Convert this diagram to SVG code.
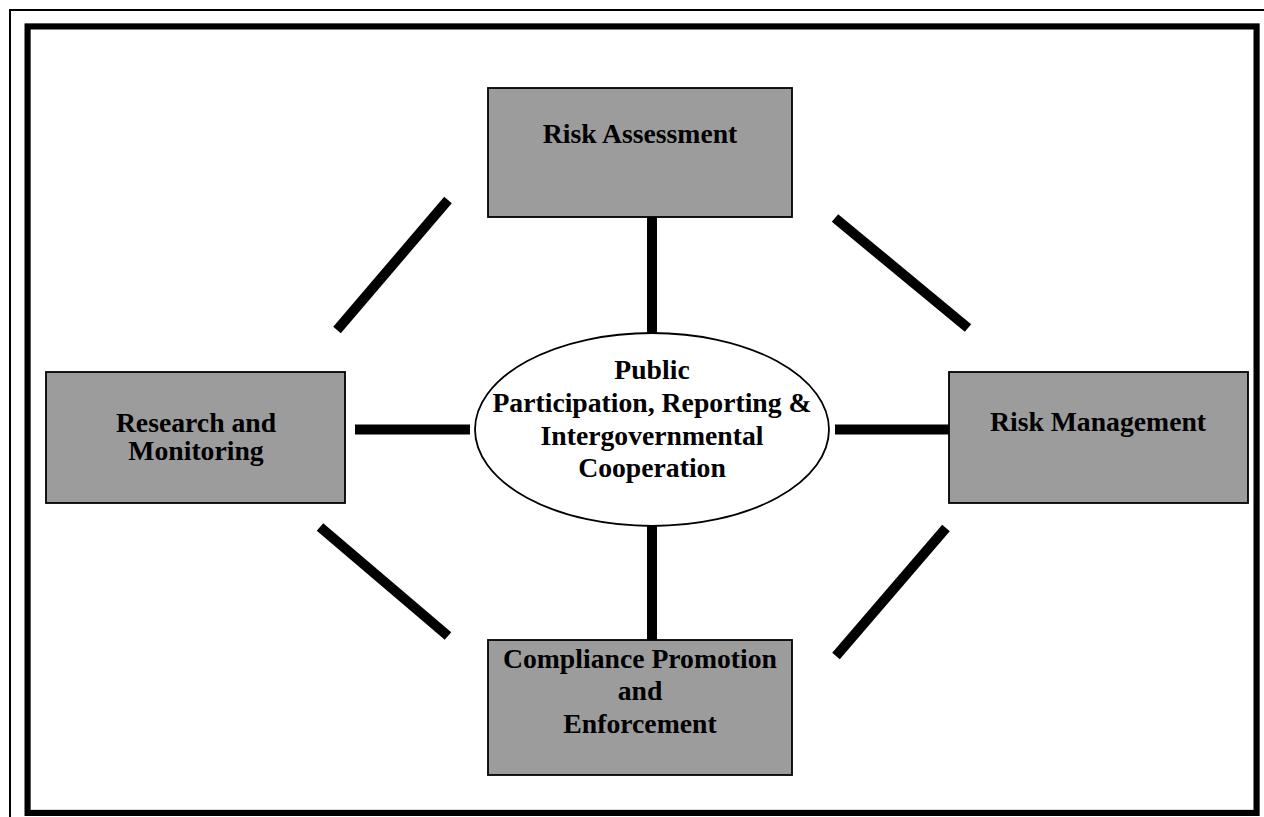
<svg xmlns="http://www.w3.org/2000/svg" width="1264" height="817" viewBox="0 0 1264 817">
<style>
.box{fill:#9c9c9c;stroke:#000;stroke-width:1.8}
.lbl{font-family:"Liberation Serif","Times New Roman",serif;font-weight:bold;font-size:27.7px;fill:#000;text-anchor:middle}
.con{stroke:#000;stroke-width:10;fill:none}
.shade{stroke:#b0b0b0;stroke-width:1;fill:none}
</style>
<rect width="1264" height="817" fill="#fff"/>
<g id="frame">
<path d="M10,817 V10 H1264" fill="none" stroke="#000" stroke-width="2"/>
<path class="shade" d="M25,23.5 H1259.5 V816 M30.5,29 V810 H1254"/>
<rect x="27.5" y="26.5" width="1229" height="786.5" fill="none" stroke="#000" stroke-width="6"/>
</g>
<g id="connectors">
<line class="con" x1="652" y1="217" x2="652" y2="333"/>
<line class="con" x1="652" y1="526" x2="652" y2="640"/>
<line class="con" x1="355" y1="429.5" x2="470" y2="429.5"/>
<line class="con" x1="835" y1="429.5" x2="949" y2="429.5"/>
<line class="con" x1="448" y1="200" x2="337" y2="330"/>
<line class="con" x1="835" y1="218" x2="968" y2="328"/>
<line class="con" x1="320" y1="527" x2="448" y2="636"/>
<line class="con" x1="946" y1="528" x2="836" y2="656"/>
</g>
<g id="risk-assessment">
<rect class="box" x="488" y="88" width="304" height="129"/>
<text class="lbl" x="640" y="143">Risk Assessment</text>
</g>
<g id="research-monitoring">
<rect class="box" x="46" y="372" width="299" height="131"/>
<text class="lbl" x="196" y="432">Research and</text>
<text class="lbl" x="196" y="460">Monitoring</text>
</g>
<g id="risk-management">
<rect class="box" x="949" y="372" width="299" height="131"/>
<text class="lbl" x="1098" y="431">Risk Management</text>
</g>
<g id="compliance">
<rect class="box" x="488" y="640" width="304" height="135"/>
<text class="lbl" x="640" y="668">Compliance Promotion</text>
<text class="lbl" x="640" y="700">and</text>
<text class="lbl" x="640" y="733">Enforcement</text>
</g>
<g id="public-participation">
<ellipse cx="652" cy="429.5" rx="177" ry="96.5" fill="#fff" stroke="#000" stroke-width="1.8"/>
<text class="lbl" x="652" y="379">Public</text>
<text class="lbl" x="652" y="412">Participation, Reporting &amp;</text>
<text class="lbl" x="652" y="445">Intergovernmental</text>
<text class="lbl" x="652" y="477">Cooperation</text>
</g>
</svg>
